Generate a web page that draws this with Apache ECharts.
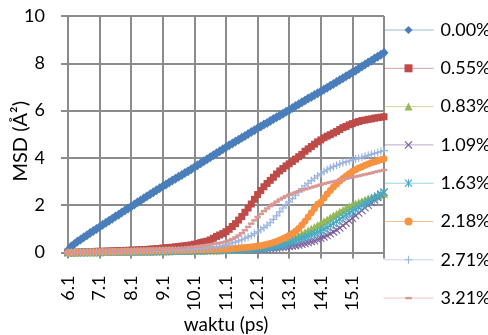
<!DOCTYPE html>
<html>
<head>
<meta charset="utf-8">
<script src="https://cdn.jsdelivr.net/npm/echarts@6/dist/echarts.min.js"></script>
<style>
  html, body { margin: 0; padding: 0; background: #ffffff; }
  #chart { width: 488px; height: 335px; }
</style>
</head>
<body>
<div id="chart"></div>
<script>
// Simulation time (ps), one sample every 0.1 ps
const times = [
  '6.1','6.2','6.3','6.4','6.5','6.6','6.7','6.8','6.9','7.0',
  '7.1','7.2','7.3','7.4','7.5','7.6','7.7','7.8','7.9','8.0',
  '8.1','8.2','8.3','8.4','8.5','8.6','8.7','8.8','8.9','9.0',
  '9.1','9.2','9.3','9.4','9.5','9.6','9.7','9.8','9.9','10.0',
  '10.1','10.2','10.3','10.4','10.5','10.6','10.7','10.8','10.9','11.0',
  '11.1','11.2','11.3','11.4','11.5','11.6','11.7','11.8','11.9','12.0',
  '12.1','12.2','12.3','12.4','12.5','12.6','12.7','12.8','12.9','13.0',
  '13.1','13.2','13.3','13.4','13.5','13.6','13.7','13.8','13.9','14.0',
  '14.1','14.2','14.3','14.4','14.5','14.6','14.7','14.8','14.9','15.0',
  '15.1','15.2','15.3','15.4','15.5','15.6','15.7','15.8','15.9','16.0',
  '16.1'
];

const seriesNames = ['0.00%', '0.55%', '0.83%', '1.09%', '1.63%', '2.18%', '2.71%', '3.21%'];

// Mean square displacement (Å²) for each concentration
const msd000 = [
  0.10,0.25,0.36,0.46,0.55,0.64,0.73,0.82,0.91,0.99,
  1.08,1.17,1.26,1.34,1.43,1.52,1.60,1.69,1.78,1.86,
  1.95,2.03,2.12,2.20,2.29,2.38,2.46,2.55,2.63,2.72,
  2.80,2.88,2.96,3.04,3.12,3.20,3.28,3.36,3.44,3.52,
  3.60,3.69,3.77,3.86,3.94,4.03,4.11,4.20,4.28,4.37,
  4.45,4.53,4.61,4.69,4.77,4.85,4.93,5.01,5.09,5.17,
  5.25,5.33,5.41,5.48,5.56,5.64,5.72,5.79,5.87,5.95,
  6.03,6.11,6.19,6.27,6.35,6.43,6.51,6.58,6.66,6.73,
  6.81,6.89,6.97,7.05,7.13,7.21,7.29,7.37,7.45,7.53,
  7.61,7.69,7.78,7.86,7.95,8.03,8.11,8.20,8.28,8.36,
  8.45
];
const msd055 = [
  0.00,0.01,0.01,0.02,0.02,0.03,0.03,0.04,0.04,0.05,
  0.05,0.05,0.06,0.06,0.07,0.07,0.08,0.08,0.09,0.09,
  0.10,0.10,0.11,0.12,0.12,0.13,0.14,0.15,0.16,0.17,
  0.19,0.20,0.21,0.22,0.24,0.25,0.27,0.28,0.30,0.32,
  0.35,0.38,0.42,0.45,0.48,0.53,0.60,0.68,0.74,0.80,
  0.88,0.98,1.10,1.22,1.37,1.52,1.70,1.88,2.05,2.25,
  2.45,2.62,2.78,2.92,3.05,3.18,3.32,3.45,3.55,3.66,
  3.75,3.85,3.95,4.05,4.15,4.28,4.38,4.48,4.58,4.68,
  4.76,4.85,4.92,4.98,5.05,5.12,5.20,5.28,5.33,5.40,
  5.45,5.50,5.54,5.58,5.60,5.63,5.65,5.68,5.70,5.72,
  5.74
];
const msd083 = [
  0.00,0.00,0.00,0.00,0.01,0.01,0.01,0.01,0.01,0.01,
  0.01,0.02,0.02,0.02,0.02,0.02,0.02,0.03,0.03,0.03,
  0.03,0.03,0.03,0.04,0.04,0.04,0.04,0.04,0.05,0.05,
  0.05,0.05,0.05,0.06,0.06,0.06,0.06,0.07,0.07,0.07,
  0.07,0.08,0.08,0.08,0.09,0.09,0.09,0.10,0.10,0.11,
  0.11,0.12,0.12,0.13,0.13,0.14,0.15,0.15,0.16,0.17,
  0.18,0.19,0.20,0.22,0.24,0.26,0.29,0.33,0.38,0.44,
  0.51,0.58,0.65,0.72,0.79,0.86,0.93,1.00,1.08,1.16,
  1.24,1.32,1.40,1.48,1.56,1.64,1.72,1.80,1.88,1.95,
  2.01,2.07,2.13,2.18,2.23,2.28,2.32,2.36,2.40,2.44,
  2.48
];
const msd109 = [
  0.00,0.00,0.00,0.00,0.00,0.00,0.01,0.01,0.01,0.01,
  0.01,0.01,0.01,0.02,0.02,0.02,0.02,0.02,0.02,0.03,
  0.03,0.03,0.03,0.03,0.03,0.04,0.04,0.04,0.04,0.04,
  0.05,0.05,0.05,0.05,0.05,0.06,0.06,0.06,0.06,0.07,
  0.07,0.07,0.07,0.08,0.08,0.08,0.08,0.09,0.09,0.09,
  0.10,0.10,0.10,0.11,0.11,0.11,0.12,0.12,0.12,0.13,
  0.13,0.14,0.15,0.16,0.17,0.18,0.19,0.20,0.22,0.23,
  0.25,0.27,0.29,0.32,0.35,0.38,0.42,0.46,0.50,0.55,
  0.60,0.66,0.72,0.79,0.87,0.95,1.04,1.14,1.24,1.34,
  1.45,1.56,1.67,1.78,1.89,2.00,2.11,2.22,2.33,2.44,
  2.55
];
const msd163 = [
  0.00,0.00,0.00,0.00,0.00,0.01,0.01,0.01,0.01,0.01,
  0.01,0.01,0.02,0.02,0.02,0.02,0.02,0.02,0.03,0.03,
  0.03,0.03,0.03,0.03,0.04,0.04,0.04,0.04,0.04,0.05,
  0.05,0.05,0.05,0.05,0.06,0.06,0.06,0.06,0.07,0.07,
  0.07,0.07,0.08,0.08,0.08,0.09,0.09,0.09,0.10,0.10,
  0.10,0.11,0.11,0.12,0.12,0.13,0.13,0.14,0.14,0.15,
  0.16,0.17,0.18,0.19,0.21,0.23,0.25,0.28,0.31,0.35,
  0.40,0.45,0.50,0.55,0.60,0.65,0.70,0.75,0.80,0.85,
  0.91,0.98,1.06,1.14,1.23,1.32,1.41,1.50,1.59,1.67,
  1.75,1.83,1.91,1.99,2.07,2.15,2.23,2.31,2.39,2.47,
  2.55
];
const msd218 = [
  0.00,0.00,0.01,0.01,0.01,0.01,0.02,0.02,0.02,0.02,
  0.03,0.03,0.03,0.03,0.04,0.04,0.04,0.04,0.05,0.05,
  0.05,0.05,0.06,0.06,0.06,0.06,0.07,0.07,0.07,0.08,
  0.08,0.08,0.09,0.09,0.09,0.10,0.10,0.10,0.11,0.11,
  0.11,0.12,0.12,0.12,0.13,0.13,0.13,0.14,0.14,0.15,
  0.15,0.16,0.17,0.18,0.19,0.20,0.21,0.22,0.23,0.25,
  0.27,0.29,0.32,0.35,0.38,0.42,0.47,0.53,0.58,0.64,
  0.72,0.80,0.90,1.02,1.16,1.32,1.50,1.68,1.86,2.04,
  2.12,2.30,2.47,2.62,2.77,2.90,3.02,3.13,3.23,3.33,
  3.42,3.50,3.57,3.63,3.69,3.74,3.79,3.84,3.88,3.92,
  3.96
];
const msd271 = [
  0.00,0.00,0.00,0.01,0.01,0.01,0.01,0.01,0.02,0.02,
  0.02,0.02,0.02,0.03,0.03,0.03,0.03,0.04,0.04,0.04,
  0.04,0.05,0.05,0.05,0.06,0.06,0.06,0.07,0.07,0.08,
  0.08,0.09,0.09,0.10,0.10,0.11,0.12,0.12,0.13,0.14,
  0.15,0.16,0.17,0.18,0.19,0.20,0.22,0.24,0.26,0.28,
  0.32,0.36,0.40,0.44,0.49,0.54,0.60,0.66,0.72,0.80,
  0.88,0.96,1.05,1.15,1.26,1.40,1.55,1.72,1.88,2.02,
  2.14,2.28,2.42,2.56,2.70,2.82,2.93,3.04,3.14,3.24,
  3.33,3.42,3.50,3.57,3.63,3.69,3.74,3.79,3.83,3.87,
  3.91,3.95,3.99,4.03,4.07,4.11,4.15,4.19,4.23,4.27,
  4.31
];
const msd321 = [
  0.00,0.00,0.01,0.01,0.01,0.02,0.02,0.02,0.03,0.03,
  0.03,0.04,0.04,0.04,0.05,0.05,0.05,0.06,0.06,0.06,
  0.07,0.07,0.08,0.08,0.09,0.09,0.10,0.10,0.11,0.12,
  0.12,0.13,0.14,0.15,0.16,0.17,0.18,0.19,0.21,0.22,
  0.24,0.26,0.28,0.30,0.32,0.34,0.36,0.38,0.40,0.43,
  0.46,0.51,0.57,0.64,0.72,0.82,0.94,1.08,1.22,1.36,
  1.50,1.63,1.75,1.86,1.96,2.06,2.15,2.24,2.31,2.38,
  2.44,2.49,2.54,2.59,2.63,2.67,2.71,2.75,2.79,2.83,
  2.87,2.91,2.94,2.97,3.00,3.03,3.06,3.09,3.12,3.15,
  3.18,3.21,3.24,3.27,3.30,3.33,3.36,3.40,3.43,3.46,
  3.49
];

const yTicks = [0, 2, 4, 6, 8, 10];

const seriesValues = [msd000, msd055, msd083, msd109, msd163, msd218, msd271, msd321];
const palette = ['#4a7ebb', '#be4b48', '#98b954', '#7d60a0', '#46aac5', '#f69240', '#9bb4de', '#d99694'];

// Marker shapes per series: diamond, square, triangle, cross, asterisk, circle, plus, dash.
// The dash carries two zero-length strokes so its bounding box stays square.
const SYM_X = 'path://M1,0L5,4L9,0L10,1L6,5L10,9L9,10L5,6L1,10L0,9L4,5L0,1Z';
const SYM_STAR = 'path://M1,0L5,4L9,0L10,1L6,5L10,9L9,10L5,6L1,10L0,9L4,5L0,1Z M4.4,0H5.6V10H4.4Z';
const SYM_PLUS = 'path://M4.3,0H5.7V4.3H10V5.7H5.7V10H4.3V5.7H0V4.3H4.3Z';
const SYM_DASH = 'path://M0,0L0,0M1,3.5H9V6.5H1ZM10,10L10,10';
const markers = [
  { symbol: 'diamond', size: [9, 10] },
  { symbol: 'rect', size: 7 },
  { symbol: 'triangle', size: 8 },
  { symbol: SYM_X, size: 8 },
  { symbol: SYM_STAR, size: 8 },
  { symbol: 'circle', size: 7 },
  { symbol: SYM_PLUS, size: 8 },
  { symbol: SYM_DASH, size: 8 }
];

const gridColor = '#8c8c8c';
const fontFamily = 'Lato, "Open Sans", sans-serif';
const every10 = (idx) => idx % 10 === 0;

const chart = echarts.init(document.getElementById('chart'), null, { renderer: 'canvas' });

chart.setOption({
  animation: false,
  backgroundColor: '#ffffff',
  textStyle: { fontFamily: fontFamily },
  grid: { left: 68, top: 16, width: 316, height: 236.5, containLabel: false, outerBoundsMode: 'none' },
  legend: {
    orient: 'vertical',
    left: 383,
    top: 21,
    padding: 0,
    itemWidth: 50,
    itemHeight: 10,
    itemGap: 20.3,
    lineStyle: { width: 1, opacity: 0.55 },
    textStyle: { fontSize: 18, color: '#000', lineHeight: 10, padding: [0, 0, 0, 2], fontFamily: fontFamily },
    data: seriesNames
  },
  xAxis: {
    type: 'category',
    data: times,
    boundaryGap: false,
    name: 'waktu (ps)',
    nameLocation: 'middle',
    nameGap: 63,
    nameMoveOverlap: false,
    nameTextStyle: { fontSize: 19, color: '#000', fontFamily: fontFamily },
    axisLine: { show: true, lineStyle: { color: gridColor, width: 2 } },
    axisTick: { show: true, interval: every10, length: 6, lineStyle: { color: gridColor, width: 2 } },
    axisLabel: {
      rotate: 90,
      margin: 23,
      fontSize: 18,
      color: '#000',
      interval: (idx) => idx % 10 === 0 && idx < 100
    },
    splitLine: { show: true, interval: every10, lineStyle: { color: gridColor, width: 2 } }
  },
  yAxis: {
    type: 'value',
    min: yTicks[0],
    max: yTicks[yTicks.length - 1],
    interval: yTicks[1] - yTicks[0],
    name: 'MSD (Å²)',
    nameLocation: 'middle',
    nameRotate: 90,
    nameGap: 37,
    nameMoveOverlap: false,
    nameTextStyle: { fontSize: 20, color: '#000', fontFamily: fontFamily, padding: [0, 14, 0, 0] },
    axisLine: { show: true, lineStyle: { color: gridColor, width: 2 } },
    axisTick: { show: true, length: 7, lineStyle: { color: gridColor, width: 2 } },
    axisLabel: { fontSize: 18, color: '#000', margin: 23 },
    splitLine: { show: true, lineStyle: { color: gridColor, width: 2 } }
  },
  series: seriesNames.map((name, i) => ({
    name: name,
    type: 'line',
    data: seriesValues[i],
    symbol: markers[i].symbol,
    symbolSize: markers[i].size,
    showAllSymbol: true,
    lineStyle: { color: palette[i], width: 1 },
    itemStyle: { color: palette[i], borderWidth: 0 },
    emphasis: { disabled: true },
    z: 2 + i
  }))
});
</script>
</body>
</html>
